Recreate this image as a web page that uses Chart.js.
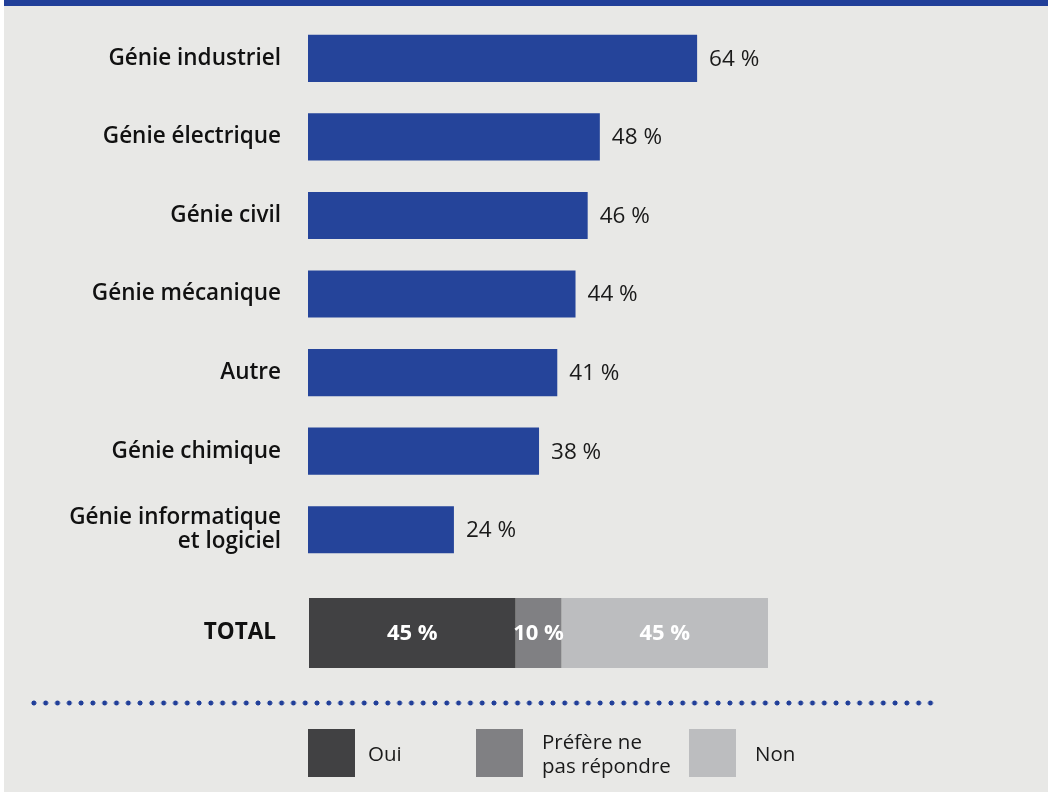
<!DOCTYPE html>
<html lang="fr">
<head>
<meta charset="utf-8">
<script src="https://cdn.jsdelivr.net/npm/chart.js@4.4.1/dist/chart.umd.min.js"></script>
<style>
  html, body { margin: 0; padding: 0; background: #ffffff; width: 1048px; height: 793px; overflow: hidden; position: relative; }
  #panel { position: absolute; left: 4px; top: 0; width: 1044px; height: 792px; background: #e8e8e6; }
  #band { position: absolute; left: 4px; top: 0; width: 1044px; height: 6px; background: #213f99; z-index: 2; }
  #c1 { position: absolute; left: 0; top: -32px; }
  #c2 { position: absolute; left: 0; top: 530px; }
  #dots { position: absolute; left: 28px; top: 700px; width: 909px; height: 6px;
          background-image: radial-gradient(circle at center, #213f99 2.2px, rgba(33,63,153,0) 2.8px);
          background-size: 11.8px 6px; background-repeat: repeat-x; }
  .sw { position: absolute; top: 729px; width: 47px; height: 48px; }
  .lt { position: absolute; font-family: "Open Sans", sans-serif; font-size: 20.5px; color: #1a1a1a; line-height: 24px; }
</style>
</head>
<body>
<div id="panel"></div>
<canvas id="c1" width="1048" height="661"></canvas>
<canvas id="c2" width="1048" height="206"></canvas>
<div id="band"></div>
<div id="dots"></div>
<div id="legend"></div>
<script>
// ---- data ----
const categories = ["Génie industriel", "Génie électrique", "Génie civil", "Génie mécanique", "Autre", "Génie chimique", ["Génie informatique", "et logiciel"]];
const values = [64, 48, 46, 44, 41, 38, 24];
const totalLabel = ["TOTAL"];
const totalOui = [45];
const totalNsp = [10];
const totalNon = [45];
const legendLabels = ["Oui", "Préfère ne\npas répondre", "Non"];
const legendColors = ["#414143", "#808083", "#bcbdbf"];

const FONT = '"Open Sans", sans-serif';

// value labels next to bars
const valueLabels = {
  id: 'valueLabels',
  afterDatasetsDraw(chart) {
    const ctx = chart.ctx;
    const meta = chart.getDatasetMeta(0);
    ctx.save();
    ctx.font = '400 22.5px ' + FONT;
    ctx.fillStyle = '#1a1a1a';
    ctx.textBaseline = 'middle';
    ctx.textAlign = 'left';
    meta.data.forEach((bar, i) => {
      ctx.fillText(values[i] + ' %', bar.x + 12, bar.y + 1);
    });
    ctx.restore();
  }
};

new Chart(document.getElementById('c1'), {
  type: 'bar',
  data: {
    labels: categories,
    datasets: [{ data: values, backgroundColor: '#25449a', borderWidth: 0,
                 categoryPercentage: 1, barPercentage: 0.6 }]
  },
  options: {
    indexAxis: 'y',
    responsive: false, animation: false, devicePixelRatio: 1,
    layout: { padding: { left: 0, right: 132, top: 50, bottom: 60 } },
    plugins: { legend: { display: false }, tooltip: { enabled: false } },
    scales: {
      x: { min: 0, max: 100, display: false },
      y: {
        grid: { display: false, drawTicks: false }, border: { display: false },
        ticks: { color: '#111111', padding: 27, font: { family: FONT, size: 22.5, weight: '600', lineHeight: 1.07 } },
        afterFit(scale) { scale.width = 308; }
      }
    }
  },
  plugins: [valueLabels]
});

// segment labels inside the total bar
const segLabels = {
  id: 'segLabels',
  afterDatasetsDraw(chart) {
    const ctx = chart.ctx;
    ctx.save();
    ctx.font = '700 22px ' + FONT;
    ctx.fillStyle = '#ffffff';
    ctx.textBaseline = 'middle';
    ctx.textAlign = 'center';
    chart.data.datasets.forEach((ds, di) => {
      chart.getDatasetMeta(di).data.forEach((bar, i) => {
        const cx = (bar.x + bar.base) / 2;
        ctx.fillText(ds.data[i] + ' %', cx, bar.y + 1);
      });
    });
    ctx.restore();
  }
};

new Chart(document.getElementById('c2'), {
  type: 'bar',
  data: {
    labels: totalLabel,
    datasets: [
      { label: legendLabels[0], data: totalOui, backgroundColor: legendColors[0], borderWidth: 0 },
      { label: legendLabels[1], data: totalNsp, backgroundColor: legendColors[1], borderWidth: 0 },
      { label: legendLabels[2], data: totalNon, backgroundColor: legendColors[2], borderWidth: 0 }
    ]
  },
  options: {
    indexAxis: 'y',
    responsive: false, animation: false, devicePixelRatio: 1,
    datasets: { bar: { categoryPercentage: 1, barPercentage: 70 / 86 } },
    layout: { padding: { left: 0, right: 280, top: 60, bottom: 60 } },
    plugins: { legend: { display: false }, tooltip: { enabled: false } },
    scales: {
      x: { stacked: true, min: 0, max: 100, display: false },
      y: {
        stacked: true,
        grid: { display: false, drawTicks: false }, border: { display: false },
        ticks: { color: '#111111', padding: 33, font: { family: FONT, size: 22.5, weight: '700' } },
        afterFit(scale) { scale.width = 309; }
      }
    }
  },
  plugins: [segLabels]
});

// HTML legend
const legendPos = [{ sw: 308, tx: 368 }, { sw: 476, tx: 542 }, { sw: 689, tx: 755 }];
const leg = document.getElementById('legend');
legendLabels.forEach((lab, i) => {
  const s = document.createElement('div');
  s.className = 'sw';
  s.style.left = legendPos[i].sw + 'px';
  s.style.background = legendColors[i];
  leg.appendChild(s);
  const t = document.createElement('div');
  t.className = 'lt';
  t.style.left = legendPos[i].tx + 'px';
  const lines = lab.split('\n');
  t.style.top = (753 - lines.length * 12) + 'px';
  t.innerHTML = lines.join('<br>');
  leg.appendChild(t);
});
</script>
</body>
</html>
